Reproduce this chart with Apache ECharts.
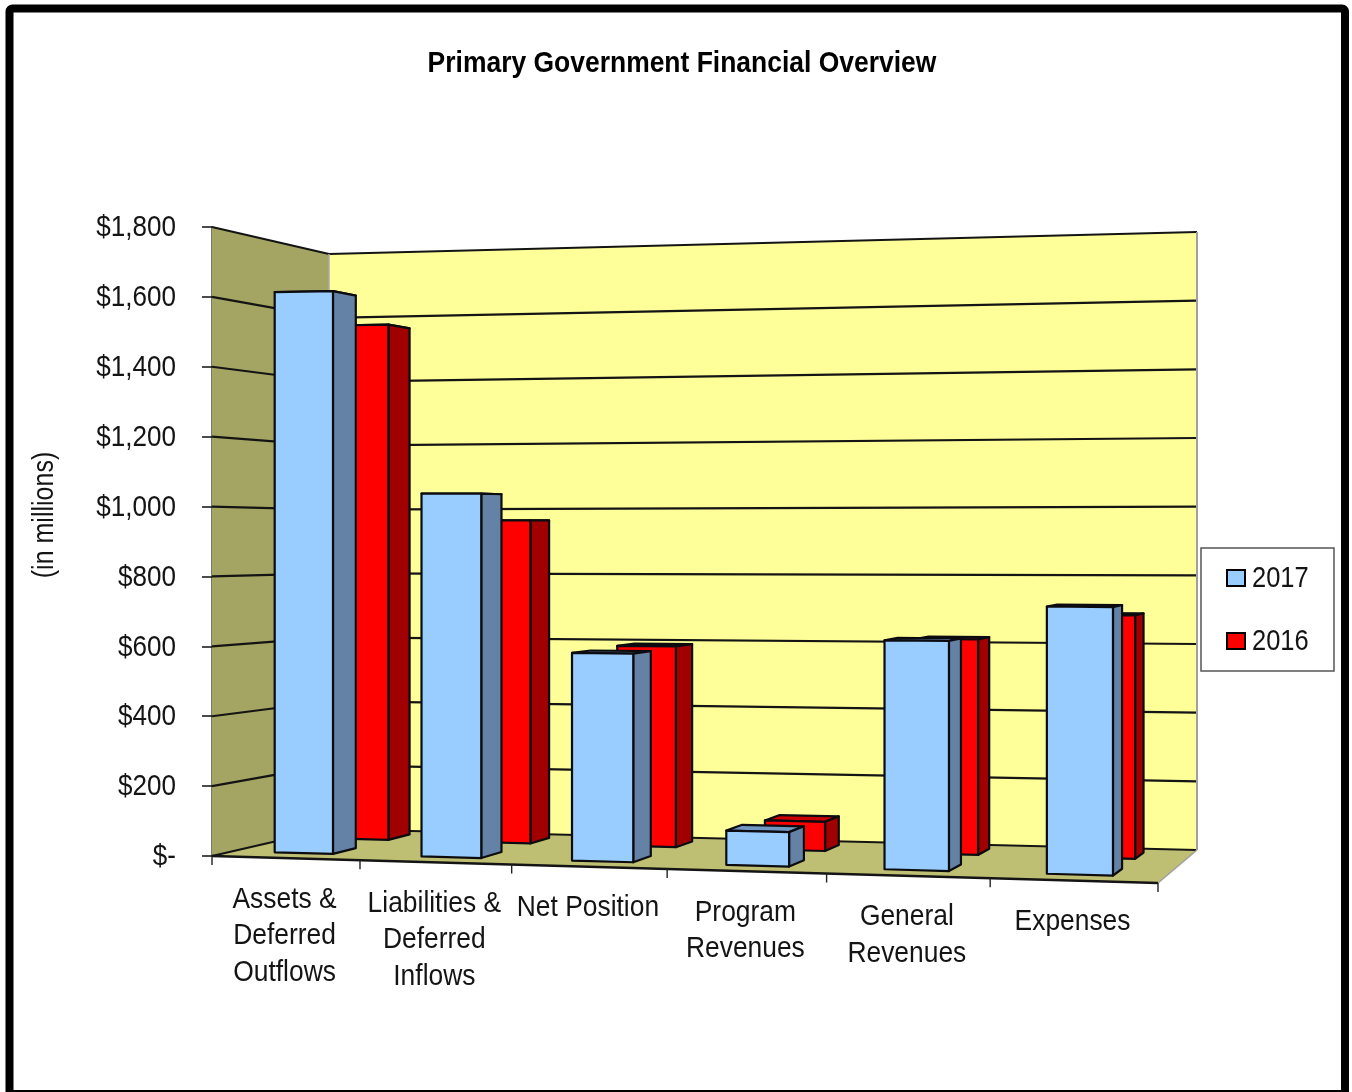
<!DOCTYPE html>
<html>
<head>
<meta charset="utf-8">
<style>html,body{margin:0;padding:0;background:#fff}#chart{width:1352px;height:1092px}</style>
<script src="https://cdn.jsdelivr.net/npm/echarts@6/dist/echarts.min.js"></script>
</head>
<body>
<div id="chart"></div>
<script>
// Values in millions of dollars
const categories = ['Assets &\nDeferred\nOutflows', 'Liabilities &\nDeferred\nInflows', 'Net Position', 'Program\nRevenues', 'General\nRevenues', 'Expenses'];
const values2017 = [1623, 1039, 588, 96, 633, 730];
const values2016 = [1555, 964, 592, 85, 620, 692];
const yTicks = [0, 200, 400, 600, 800, 1000, 1200, 1400, 1600, 1800];
const yTickLabels = ['$-', '$200', '$400', '$600', '$800', '$1,000', '$1,200', '$1,400', '$1,600', '$1,800'];
const seriesNames = ['2017', '2016'];

const FONT = '"Liberation Sans",Arial,sans-serif';
const TEXT_COLOR = '#141414';
const GRID = {left: 212, top: 227, width: 946, height: 629};

// Oblique view of the plot box: front and back planes as screen-space edges
const VIEW = {
  front: {x0: 212, x1: 1158, bot0: 856, bot1: 883, top0: 227, top1: 208},
  back:  {x0: 329, x1: 1197, bot0: 829, bot1: 850, top0: 254, top1: 232},
  skew: -0.0727
};
const DEPTH = {y2017: [0.18, 0.39], y2016: [0.69, 0.885]};
const BAR_SHIFT = -0.002;
const BAR_SHARE = 0.4;

const lerp = (a, b, t) => a + (b - a) * t;

// u: share along the category axis, v: share of the value axis, d: depth into the box
function project(u, v, d) {
  const s = VIEW.skew;
  const w = (1 + s) * u / (1 + s * u);
  const f = VIEW.front, b = VIEW.back;
  const x = lerp(lerp(f.x0, f.x1, w), lerp(b.x0, b.x1, w), d);
  const yF = lerp(lerp(f.bot0, f.bot1, w), lerp(f.top0, f.top1, w), v);
  const yB = lerp(lerp(b.bot0, b.bot1, w), lerp(b.top0, b.top1, w), v);
  return [x, lerp(yF, yB, d)];
}

function toShare(params, point) {
  const c = params.coordSys;
  return [(point[0] - c.x) / c.width, (c.y + c.height - point[1]) / c.height];
}

function face(points, fill, stroke, width) {
  return {
    type: 'polygon',
    shape: {points},
    style: {fill, stroke: stroke || 'none', lineWidth: width || 0, lineJoin: 'round'},
    silent: true
  };
}

function segment(a, b, stroke, width) {
  return {
    type: 'line',
    shape: {x1: a[0], y1: a[1], x2: b[0], y2: b[1]},
    style: {stroke, lineWidth: width},
    silent: true
  };
}

// Horizontally condensed text, the way the chart's labels are set
function condensed(text, x, y, size, squeeze, align, verticalAlign) {
  return {
    type: 'text',
    silent: true,
    x,
    y,
    scaleX: squeeze,
    style: {
      text,
      font: size + 'px ' + FONT,
      fill: TEXT_COLOR,
      align,
      verticalAlign,
      lineHeight: 36.5
    }
  };
}

// Walls, floor and gridlines of the plot box
function renderShell(params, api) {
  const P = project;
  const children = [
    face([P(0,0,0), P(0,1,0), P(0,1,1), P(0,0,1)], '#A5A563'),
    face([P(0,0,1), P(0,1,1), P(1,1,1), P(1,0,1)], '#FFFF99'),
    face([P(0,0,0), P(0,0,1), P(1,0,1), P(1,0,0)], '#BFBF73')
  ];
  yTicks.forEach(function (t) {
    const v = toShare(params, api.coord([0, t]))[1];
    children.push(segment(P(0, v, 0), P(0, v, 1), '#141414', 2.2));
    children.push(segment(P(0, v, 1), P(1, v, 1), '#141414', 2.2));
  });
  children.push(segment(P(0,0,1), P(0,1,1), '#AAAAAA', 1.5));
  children.push(segment(P(1,0,1), P(1,1,1), '#A0A0A0', 2));
  children.push(segment(P(1,0,0), P(1,0,1), '#A0A0A0', 1.5));
  children.push(segment(P(0,0,0), P(1,0,0), '#141414', 2.4));
  const n = categories.length;
  for (let i = 0; i <= n; i++) {
    const a = P(i / n, 0, 0);
    children.push(segment(a, [a[0], a[1] + 9], '#222', 1.4));
  }
  return {type: 'group', children};
}

function barRenderer(depth, front, side, top) {
  return function (params, api) {
    const cat = api.value(0);
    const val = api.value(1);
    const mid = toShare(params, api.coord([cat, val]));
    const half = api.size([1, 0])[0] * BAR_SHARE / 2 / params.coordSys.width;
    const u0 = mid[0] + BAR_SHIFT - half, u1 = mid[0] + BAR_SHIFT + half, v = mid[1];
    const d0 = depth[0], d1 = depth[1];
    const P = project, ink = '#0c0c10', w = 2.2;
    return {type: 'group', children: [
      face([P(u0,v,d0), P(u1,v,d0), P(u1,v,d1), P(u0,v,d1)], top, ink, w),
      face([P(u1,0,d0), P(u1,v,d0), P(u1,v,d1), P(u1,0,d1)], side, ink, w),
      face([P(u0,0,d0), P(u0,v,d0), P(u1,v,d0), P(u1,0,d0)], front, ink, w)
    ]};
  };
}

// Category names sit a fixed distance under the sloped front edge
function renderCategoryLabel(params, api) {
  const i = api.value(0);
  const s = toShare(params, api.coord([i, 0]));
  const p = project(s[0], 0, 0);
  return condensed(categories[i], p[0] - 1, p[1] + 23, 30, 0.88, 'center', 'top');
}

// Value tick labels, right-aligned against the tick marks
function renderValueLabel(params, api) {
  const i = api.value(0);
  const p = api.coord([0, yTicks[i]]);
  return condensed(yTickLabels[i], params.coordSys.x - 36, p[1] + 1, 30, 0.868, 'right', 'middle');
}

const chart = echarts.init(document.getElementById('chart'), null, {renderer: 'canvas'});
chart.setOption({
  animation: false,
  backgroundColor: '#fff',
  grid: GRID,
  xAxis: {type: 'category', data: categories, show: false},
  yAxis: {
    type: 'value',
    min: 0,
    max: 1800,
    interval: 200,
    axisLine: {show: true, lineStyle: {color: '#777', width: 2}},
    axisTick: {show: true, length: 10, lineStyle: {color: '#111', width: 1.5}},
    splitLine: {show: false},
    axisLabel: {show: false}
  },
  legend: {
    left: 1201,
    top: 548,
    orient: 'vertical',
    align: 'left',
    backgroundColor: '#fff',
    borderColor: '#555',
    borderWidth: 1.5,
    padding: [21, 88, 21, 25],
    itemWidth: 18,
    itemHeight: 16,
    itemGap: 45,
    formatter: function () { return ''; },
    data: [
      {name: seriesNames[0], icon: 'rect', itemStyle: {color: '#99CCFF', borderColor: '#000', borderWidth: 2}},
      {name: seriesNames[1], icon: 'rect', itemStyle: {color: '#FF0000', borderColor: '#000', borderWidth: 2}}
    ]
  },
  graphic: [
    {
      type: 'rect',
      silent: true,
      z: 100,
      shape: {x: 9.5, y: 8.5, width: 1335.5, height: 1085.5, r: 3},
      style: {fill: 'none', stroke: '#000', lineWidth: 8}
    },
    {
      type: 'text',
      silent: true,
      x: 682,
      y: 64,
      scaleX: 0.882,
      z: 100,
      style: {
        text: 'Primary Government Financial Overview',
        font: 'bold 30px ' + FONT,
        fill: '#000',
        align: 'center',
        verticalAlign: 'middle'
      }
    },
    {
      type: 'text',
      silent: true,
      x: 45,
      y: 515,
      rotation: Math.PI / 2,
      scaleX: 0.834,
      z: 100,
      style: {text: '(in millions)', font: '30px ' + FONT, fill: TEXT_COLOR, align: 'center', verticalAlign: 'middle'}
    },
    {
      type: 'text',
      silent: true,
      x: 1252,
      y: 579,
      scaleX: 0.85,
      z: 100,
      style: {text: seriesNames[0], font: '30px ' + FONT, fill: TEXT_COLOR, align: 'left', verticalAlign: 'middle'}
    },
    {
      type: 'text',
      silent: true,
      x: 1252,
      y: 642,
      scaleX: 0.85,
      z: 100,
      style: {text: seriesNames[1], font: '30px ' + FONT, fill: TEXT_COLOR, align: 'left', verticalAlign: 'middle'}
    }
  ],
  series: [
    {type: 'custom', name: 'box', renderItem: renderShell, data: [[0, 0]], silent: true, z: 1},
    {
      type: 'custom', name: seriesNames[1], z: 2, silent: true,
      itemStyle: {color: '#FF0000'},
      renderItem: barRenderer(DEPTH.y2016, '#FF0000', '#A00000', '#CC0000'),
      data: values2016.map(function (v, i) { return [i, v]; })
    },
    {
      type: 'custom', name: seriesNames[0], z: 3, silent: true,
      itemStyle: {color: '#99CCFF'},
      renderItem: barRenderer(DEPTH.y2017, '#99CCFF', '#6482A6', '#7096C2'),
      data: values2017.map(function (v, i) { return [i, v]; })
    },
    {
      type: 'custom', name: 'category labels', z: 4, silent: true,
      renderItem: renderCategoryLabel,
      data: categories.map(function (c, i) { return [i, 0]; })
    },
    {
      type: 'custom', name: 'value labels', z: 4, silent: true,
      renderItem: renderValueLabel,
      data: yTicks.map(function (t, i) { return [i, t]; })
    }
  ]
});
</script>
</body>
</html>
